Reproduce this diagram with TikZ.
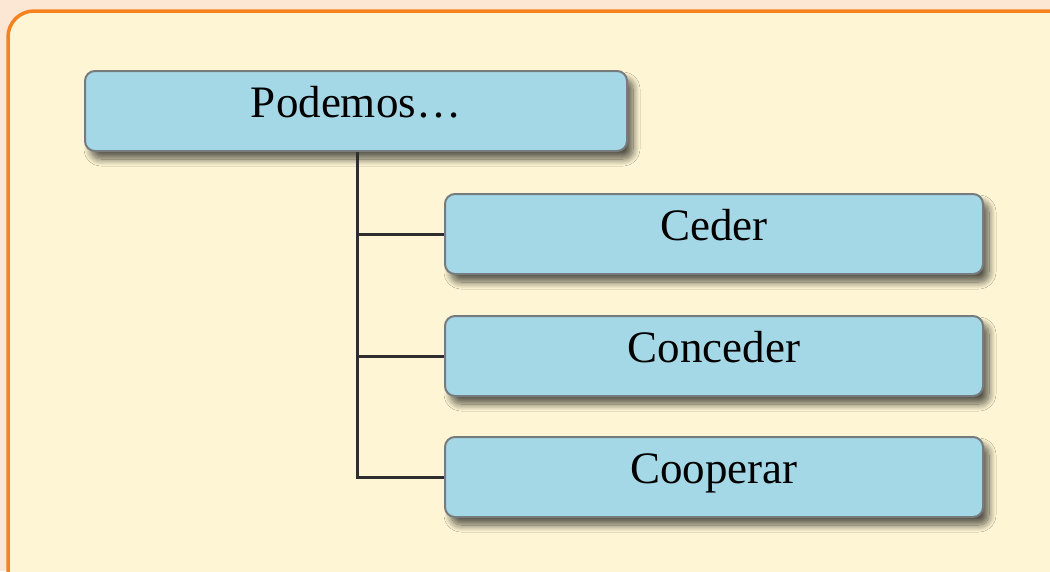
\documentclass[tikz,border=0pt]{standalone}
\usepackage{fontspec}
\setmainfont{Liberation Serif}
\usetikzlibrary{shadows.blur}
\definecolor{peach}{HTML}{FCE6D4}
\definecolor{cream}{HTML}{FDF5D3}
\definecolor{frameorange}{HTML}{F5821F}
\definecolor{boxblue}{HTML}{A5D8E6}
\definecolor{boxedge}{HTML}{767B7E}
\definecolor{linedark}{HTML}{2E2E2E}
\tikzset{
  itembox/.style={draw=boxedge,line width=2pt,fill=boxblue,rounded corners=10pt,
    minimum height=80pt,text height=30pt,text depth=18pt,
    font=\fontsize{45}{54}\selectfont,inner sep=0pt,
    blur shadow={shadow xshift=6pt,shadow yshift=-8pt,shadow blur radius=7pt,
      shadow opacity=65,shadow blur steps=12}},
  branch/.style={draw=linedark,line width=3pt}
}
\begin{document}
\begin{tikzpicture}[x=1pt,y=-1pt]
\useasboundingbox (0,0) rectangle (1050,571);
\fill[peach](0,0)rectangle(1050,571);
\draw[frameorange,fill=cream,line width=3.5pt,rounded corners=26pt](8,11)rectangle(1080,600);

\node[itembox,minimum width=542pt](top) at (356,111){Podemos…};
\node[itembox,minimum width=538pt](ceder) at (714,234){Ceder};
\node[itembox,minimum width=538pt](conceder) at (714,356){Conceder};
\node[itembox,minimum width=538pt](cooperar) at (714,477){Cooperar};

\coordinate(j1) at (357,234);
\coordinate(j2) at (357,356);
\coordinate(j3) at (357,477);
\draw[branch](top.south -| j1)--(j3)--(cooperar.west);
\draw[branch](j1)--(ceder.west);
\draw[branch](j2)--(conceder.west);
\end{tikzpicture}
\end{document}
